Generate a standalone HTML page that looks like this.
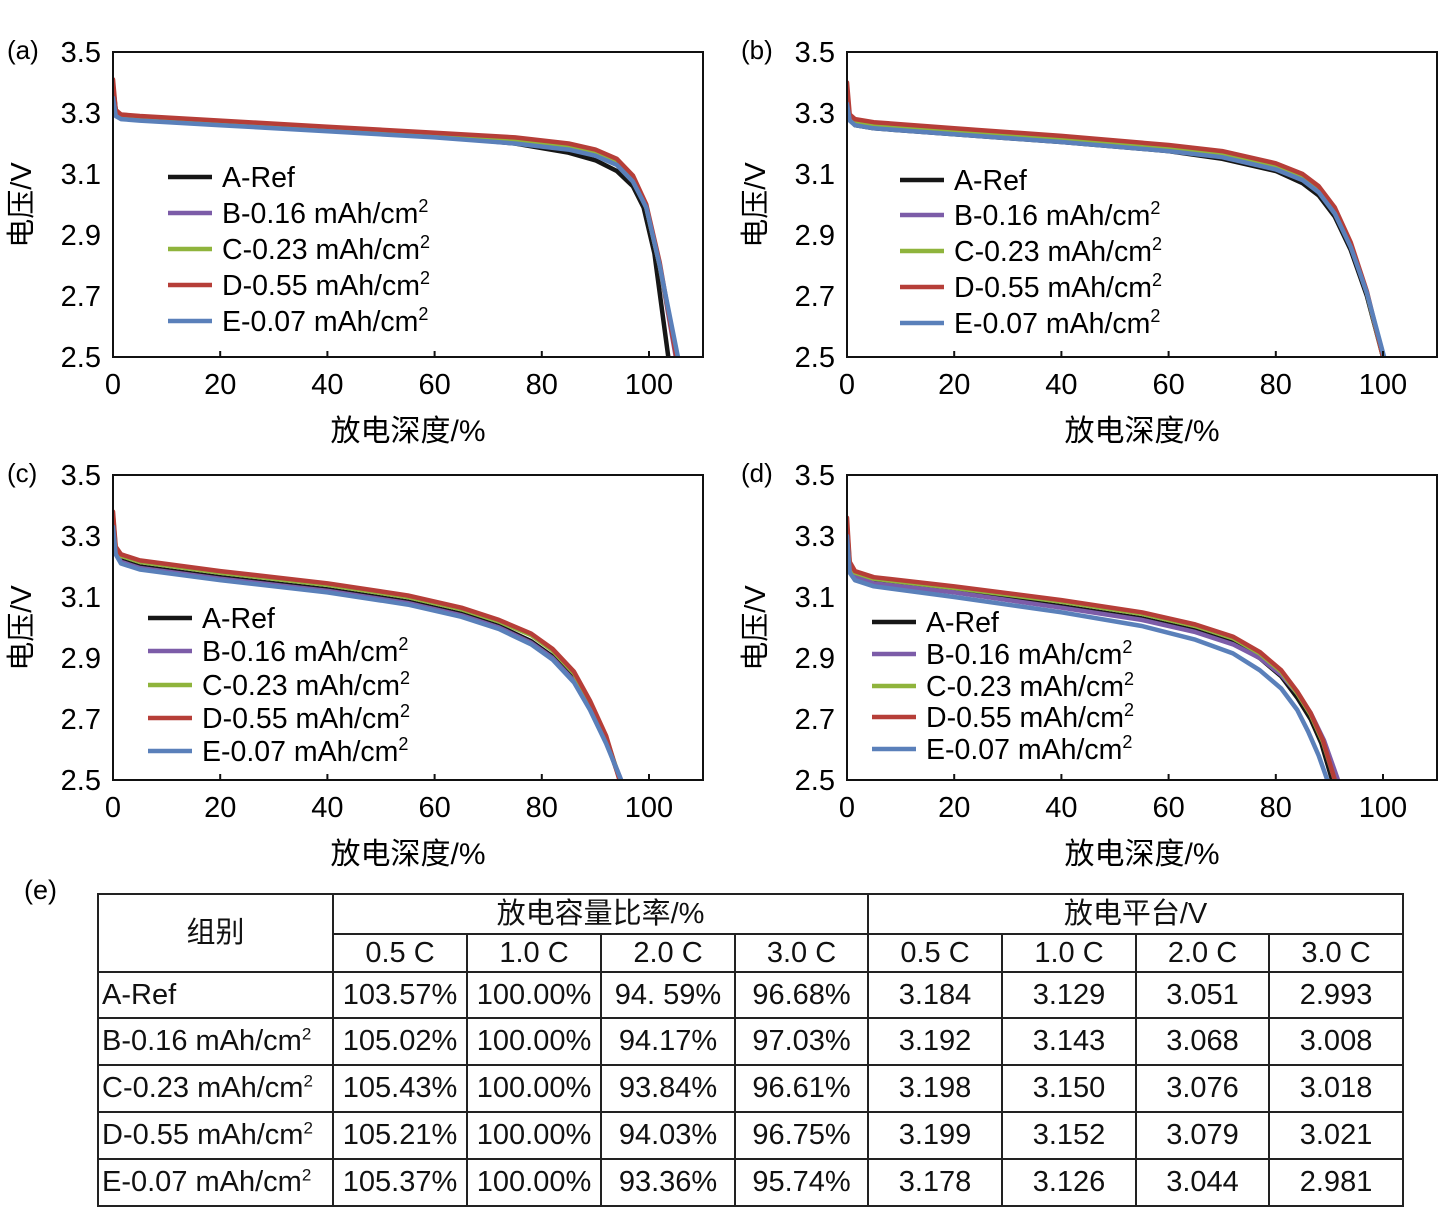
<!DOCTYPE html>
<html><head><meta charset="utf-8">
<style>
body{margin:0;background:#fff;}
#root{position:relative;width:1452px;height:1212px;overflow:hidden;font-family:"Liberation Sans","Noto Sans CJK SC",sans-serif;}
svg text{font-family:"Liberation Sans","Noto Sans CJK SC",sans-serif;}
table{position:absolute;left:97px;top:893px;border-collapse:collapse;font-size:29px;color:#111;table-layout:fixed;width:1305px;}
td{border:2px solid #222;padding:0;text-align:center;white-space:nowrap;overflow:visible;line-height:1;box-sizing:border-box;}
td.l{text-align:left;padding-left:3px;}
sup{font-size:17px;line-height:0;}
</style></head><body>
<div id="root">
<svg id="chart" width="1452" height="880" style="position:absolute;left:0;top:0"></svg>
<div style="position:absolute;left:24px;top:875px;font-size:27px">(e)</div>
<table>
<colgroup><col style="width:235px"><col style="width:134px"><col style="width:134px"><col style="width:134px"><col style="width:133px"><col style="width:134px"><col style="width:134px"><col style="width:133px"><col style="width:134px"></colgroup>
<tr style="height:40px"><td rowspan="2">组别</td><td colspan="4">放电容量比率/%</td><td colspan="4">放电平台/V</td></tr>
<tr style="height:38px"><td>0.5 C</td><td>1.0 C</td><td>2.0 C</td><td>3.0 C</td><td>0.5 C</td><td>1.0 C</td><td>2.0 C</td><td>3.0 C</td></tr>
<tr style="height:46px"><td class="l">A-Ref</td><td>103.57%</td><td>100.00%</td><td>94. 59%</td><td>96.68%</td><td>3.184</td><td>3.129</td><td>3.051</td><td>2.993</td></tr>
<tr style="height:47px"><td class="l">B-0.16 mAh/cm<sup>2</sup></td><td>105.02%</td><td>100.00%</td><td>94.17%</td><td>97.03%</td><td>3.192</td><td>3.143</td><td>3.068</td><td>3.008</td></tr>
<tr style="height:47px"><td class="l">C-0.23 mAh/cm<sup>2</sup></td><td>105.43%</td><td>100.00%</td><td>93.84%</td><td>96.61%</td><td>3.198</td><td>3.150</td><td>3.076</td><td>3.018</td></tr>
<tr style="height:47px"><td class="l">D-0.55 mAh/cm<sup>2</sup></td><td>105.21%</td><td>100.00%</td><td>94.03%</td><td>96.75%</td><td>3.199</td><td>3.152</td><td>3.079</td><td>3.021</td></tr>
<tr style="height:47px"><td class="l">E-0.07 mAh/cm<sup>2</sup></td><td>105.37%</td><td>100.00%</td><td>93.36%</td><td>95.74%</td><td>3.178</td><td>3.126</td><td>3.044</td><td>2.981</td></tr>
</table>
</div>
<script>
const seriesNames=["A-Ref","B-0.16 mAh/cm","C-0.23 mAh/cm","D-0.55 mAh/cm","E-0.07 mAh/cm"];
const seriesColors=["#161616","#7c5ca8","#8fb43c","#b63e38","#5a80ba"];
const xTicks=[0,20,40,60,80,100];
const yTicks=[2.5,2.7,2.9,3.1,3.3,3.5];
// panel a
const aX_A=[0,0.5,1.5,5,20,40,60,75,85,90,94,97,99,101,103.6];
const aV_A=[3.39,3.31,3.29,3.28,3.265,3.245,3.225,3.2,3.17,3.145,3.11,3.06,2.99,2.84,2.5];
const aX_B=[0,0.5,1.5,5,20,40,60,75,85,90,94,97,99.5,102,105];
const aV_B=[3.37,3.3,3.285,3.28,3.265,3.245,3.225,3.205,3.185,3.165,3.135,3.08,2.99,2.8,2.5];
const aX_C=[0,0.5,1.5,5,20,40,60,75,85,90,94,97,99.5,102,105.2];
const aV_C=[3.37,3.3,3.285,3.28,3.267,3.247,3.227,3.21,3.19,3.17,3.14,3.085,2.99,2.8,2.5];
const aX_D=[0,0.5,1.5,5,20,40,60,75,85,90,94,97,99.5,102,105.1];
const aV_D=[3.41,3.31,3.295,3.29,3.275,3.255,3.235,3.22,3.2,3.18,3.15,3.095,3.0,2.81,2.5];
const aX_E=[0,0.5,1.5,5,20,40,60,75,85,90,94,97,99.5,102,105.4];
const aV_E=[3.35,3.29,3.28,3.275,3.26,3.24,3.22,3.2,3.18,3.16,3.13,3.075,2.99,2.8,2.5];
// panel b
const bX_A=[0,0.5,1.5,5,20,40,60,70,80,85,88,91,94,97,100];
const bV_A=[3.36,3.28,3.26,3.25,3.23,3.205,3.175,3.15,3.11,3.07,3.03,2.96,2.85,2.7,2.5];
const bX_B=[0,0.5,1.5,5,20,40,60,70,80,85,88,91,94,97,100];
const bV_B=[3.35,3.28,3.265,3.255,3.235,3.21,3.18,3.16,3.12,3.085,3.045,2.975,2.865,2.71,2.5];
const bX_C=[0,0.5,1.5,5,20,40,60,70,80,85,88,91,94,97,100];
const bV_C=[3.37,3.285,3.27,3.26,3.24,3.215,3.185,3.165,3.125,3.09,3.05,2.98,2.87,2.71,2.5];
const bX_D=[0,0.5,1.5,5,20,40,60,70,80,85,88,91,94,97,100];
const bV_D=[3.40,3.295,3.28,3.27,3.25,3.225,3.195,3.175,3.135,3.1,3.06,2.99,2.875,2.715,2.5];
const bX_E=[0,0.5,1.5,5,20,40,60,70,80,85,88,91,94,97,100.2];
const bV_E=[3.33,3.275,3.26,3.25,3.23,3.205,3.175,3.155,3.115,3.08,3.04,2.97,2.86,2.71,2.5];
// panel c
const cX_A=[0,0.5,1.5,5,20,40,55,65,72,78,82,86,89,92,94.6];
const cV_A=[3.36,3.25,3.22,3.2,3.165,3.125,3.085,3.045,3.005,2.955,2.905,2.83,2.74,2.63,2.5];
const cX_B=[0,0.5,1.5,5,20,40,55,65,72,78,82,86,89,92,94.8];
const cV_B=[3.35,3.245,3.215,3.195,3.16,3.12,3.08,3.04,3.0,2.95,2.9,2.825,2.735,2.625,2.5];
const cX_C=[0,0.5,1.5,5,20,40,55,65,72,78,82,86,89,92,94.6];
const cV_C=[3.37,3.26,3.235,3.215,3.18,3.14,3.1,3.06,3.02,2.975,2.925,2.85,2.755,2.64,2.5];
const cX_D=[0,0.5,1.5,5,20,40,55,65,72,78,82,86,89,92,94.5];
const cV_D=[3.38,3.265,3.24,3.22,3.185,3.145,3.105,3.065,3.025,2.98,2.93,2.855,2.76,2.645,2.5];
const cX_E=[0,0.5,1.5,5,20,40,55,65,72,78,82,86,89,92,94.8];
const cV_E=[3.33,3.24,3.21,3.19,3.155,3.115,3.075,3.035,2.995,2.945,2.895,2.82,2.73,2.62,2.5];
// panel d
const dX_A=[0,0.5,1.5,5,20,40,55,65,72,77,81,84,86.5,88.5,90.5];
const dV_A=[3.33,3.2,3.17,3.15,3.12,3.07,3.03,2.99,2.95,2.9,2.84,2.77,2.7,2.62,2.5];
const dX_B=[0,0.5,1.5,5,20,40,55,65,72,77,81,84,86.5,89,91.6];
const dV_B=[3.32,3.19,3.165,3.145,3.115,3.065,3.025,2.985,2.945,2.9,2.845,2.785,2.72,2.63,2.5];
const dX_C=[0,0.5,1.5,5,20,40,55,65,72,77,81,84,86.5,88.8,91];
const dV_C=[3.34,3.21,3.18,3.16,3.13,3.085,3.045,3.005,2.965,2.915,2.855,2.785,2.715,2.625,2.5];
const dX_D=[0,0.5,1.5,5,20,40,55,65,72,77,81,84,86.5,88.8,91];
const dV_D=[3.36,3.215,3.185,3.165,3.135,3.09,3.05,3.01,2.97,2.92,2.86,2.79,2.72,2.63,2.5];
const dX_E=[0,0.5,1.5,5,20,40,55,65,72,77,81,84,86,88,89.6];
const dV_E=[3.3,3.18,3.155,3.135,3.1,3.05,3.005,2.96,2.915,2.86,2.8,2.73,2.66,2.58,2.5];

const panels=[
 {id:"a",left:113,top:52,xs:[aX_A,aX_B,aX_C,aX_D,aX_E],vs:[aV_A,aV_B,aV_C,aV_D,aV_E],lx:168,ly:[177,213,249,285,321]},
 {id:"b",left:847,top:52,xs:[bX_A,bX_B,bX_C,bX_D,bX_E],vs:[bV_A,bV_B,bV_C,bV_D,bV_E],lx:900,ly:[180,215,251,287,323]},
 {id:"c",left:113,top:475,xs:[cX_A,cX_B,cX_C,cX_D,cX_E],vs:[cV_A,cV_B,cV_C,cV_D,cV_E],lx:148,ly:[618,651,685,718,751]},
 {id:"d",left:847,top:475,xs:[dX_A,dX_B,dX_C,dX_D,dX_E],vs:[dV_A,dV_B,dV_C,dV_D,dV_E],lx:872,ly:[622,654,686,717,749]}
];
const NS="http://www.w3.org/2000/svg";
const svg=document.getElementById("chart");
const W=590,H=305;
function mk(tag,attrs,parent){const e=document.createElementNS(NS,tag);for(const k in attrs)e.setAttribute(k,attrs[k]);(parent||svg).appendChild(e);return e;}
panels.forEach(p=>{
 const g=mk("g",{});
 
 
 const sx=v=>p.left+v*5.36, sy=v=>p.top+H-(v-2.5)*H;
 const lbl=mk("text",{x:p.left-106,y:p.top+7,"font-size":26},g);lbl.textContent="("+p.id+")";
 
 
 const cp=mk("clipPath",{id:"clip"+p.id},g);mk("rect",{x:p.left,y:p.top-20,width:W,height:H+20},cp);
 p.xs.forEach((xa,i)=>{
  const pts=xa.map((x,j)=>sx(x).toFixed(1)+","+sy(p.vs[i][j]).toFixed(1)).join(" ");
  const l=mk("polyline",{points:pts,fill:"none",stroke:seriesColors[i],"stroke-width":4.5,"stroke-linejoin":"round","stroke-linecap":"round","clip-path":"url(#clip"+p.id+")"},g);
  
  
 });
 const box=mk("rect",{x:p.left,y:p.top,width:W,height:H,fill:"none",stroke:"#111","stroke-width":2},g);
 
 
 xTicks.forEach(t=>{
  mk("line",{x1:sx(t),x2:sx(t),y1:p.top+H,y2:p.top+H-6,stroke:"#111","stroke-width":2},g);
  const tx=mk("text",{x:sx(t),y:p.top+H+37,"font-size":29,"text-anchor":"middle"},g);tx.textContent=t;
  
  
 });
 yTicks.forEach(t=>{
  const ty=mk("text",{x:p.left-12,y:sy(t)+10,"font-size":29,"text-anchor":"end"},g);ty.textContent=t.toFixed(1);
  
  
 });
 const yt=mk("text",{transform:"translate("+(p.left-82)+","+(p.top+153)+") rotate(-90)","font-size":29,"text-anchor":"middle"},g);yt.textContent="电压/V";
 
 
 const xt=mk("text",{x:p.left+295,y:p.top+389,"font-size":30,"text-anchor":"middle"},g);xt.textContent="放电深度/%";
 
 
 seriesNames.forEach((n,i)=>{
  const lg=mk("g",{},g);
  
  
  mk("line",{x1:p.lx,x2:p.lx+44,y1:p.ly[i],y2:p.ly[i],stroke:seriesColors[i],"stroke-width":4.5},lg);
  const t=mk("text",{x:p.lx+54,y:p.ly[i]+10,"font-size":28.5},lg);t.textContent=n;
  if(i>0){const s=mk("tspan",{"font-size":18,dy:-11},t);s.textContent="2";}
 });
});
</script>
</body></html>
